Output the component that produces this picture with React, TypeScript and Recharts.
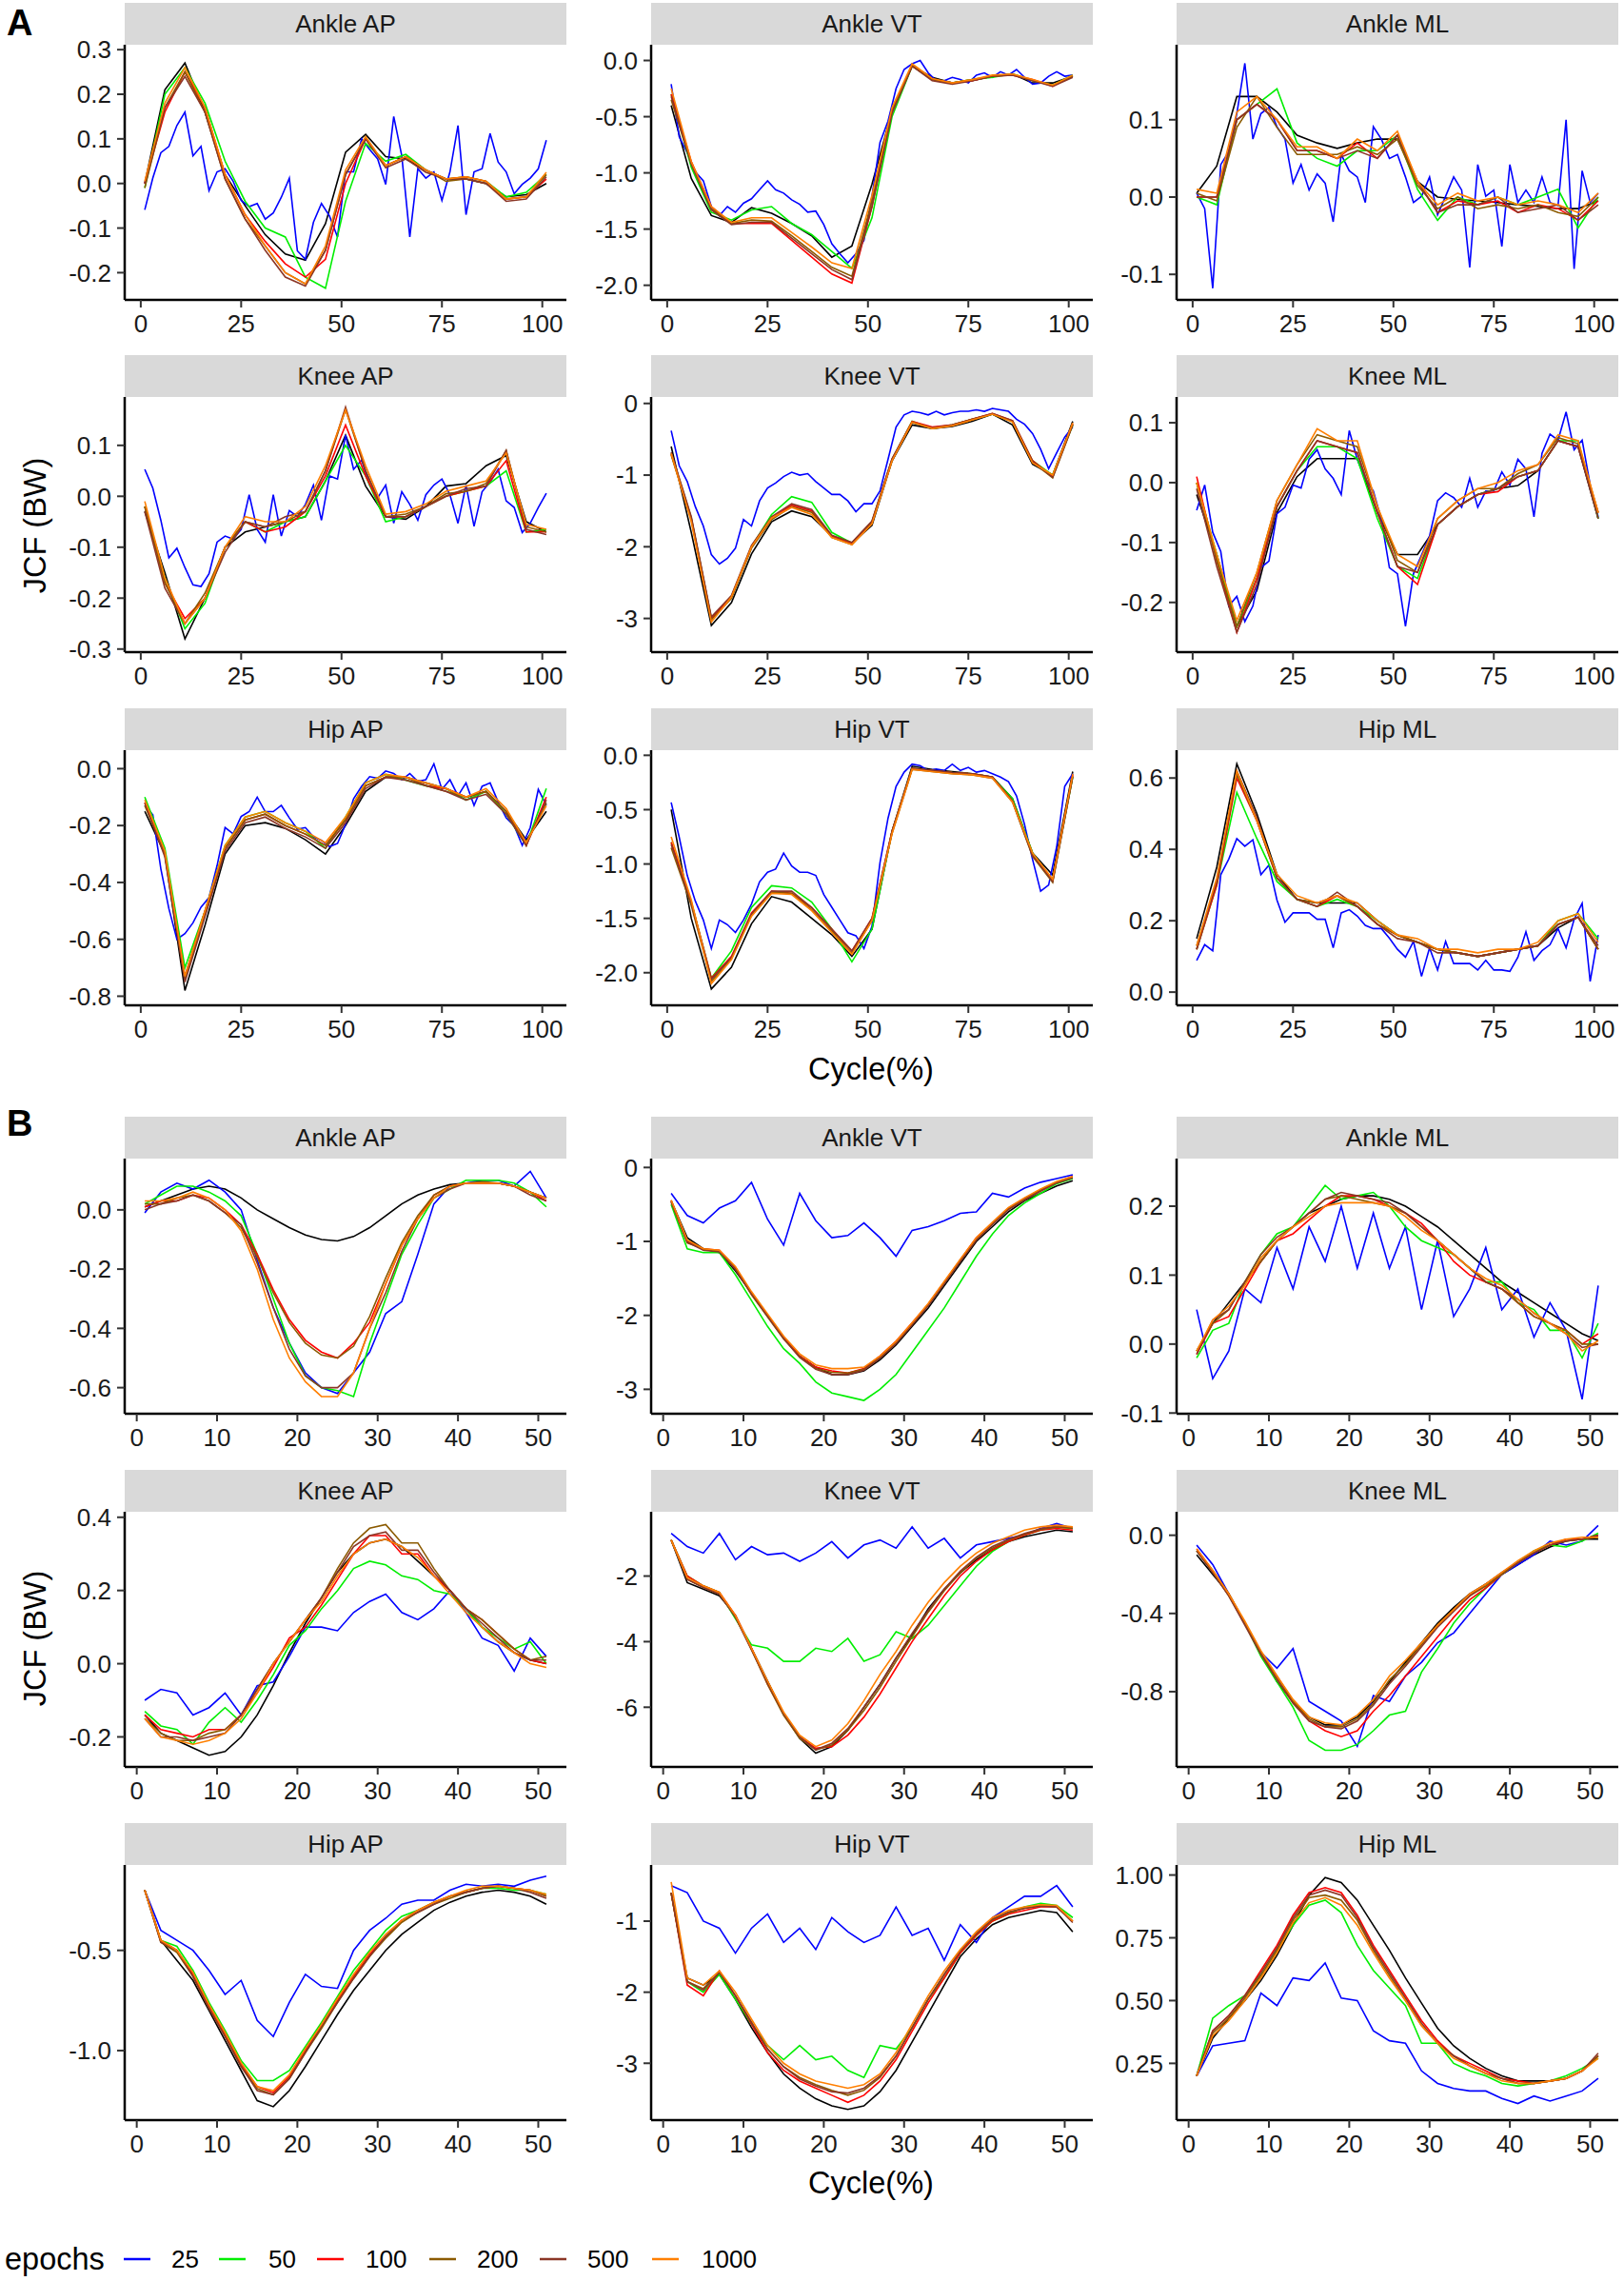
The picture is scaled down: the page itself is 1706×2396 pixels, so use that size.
import { Line, LineChart, XAxis, YAxis } from "recharts";

const FONT = '"Liberation Sans", Arial, sans-serif';

// series order: ground truth (black) first, then the epoch runs
const SERIES = ["truth", "25", "50", "100", "200", "500", "1000"];
const COLORS = ["#000000", "#0000FF", "#00EE00", "#FF0000", "#8B5A00", "#8B3626", "#FF7F00"];

const A_X = [1, 6, 11, 16, 21, 26, 31, 36, 41, 46, 51, 56, 61, 66, 71, 76, 81, 86, 91, 96, 101];
// the noisy 25-epoch curves of panel A are read on a finer grid
const A_X_FINE = [
  1, 3, 5, 7, 9, 11, 13, 15, 17, 19, 21, 23, 25, 27, 29, 31, 33, 35, 37, 39, 41, 43, 45, 47, 49, 51,
  53, 55, 57, 59, 61, 63, 65, 67, 69, 71, 73, 75, 77, 79, 81, 83, 85, 87, 89, 91, 93, 95, 97, 99, 101,
];
const B_X = [1, 3, 5, 7, 9, 11, 13, 15, 17, 19, 21, 23, 25, 27, 29, 31, 33, 35, 37, 39, 41, 43, 45, 47, 49, 51];
const A_X_TICKS = [0, 25, 50, 75, 100];
const B_X_TICKS = [0, 10, 20, 30, 40, 50];

// ---- Panel A ----
const A_ANKLE_AP = [
  [0.0, 0.21, 0.27, 0.16, 0.02, -0.05, -0.115, -0.158, -0.172, -0.09, 0.07, 0.11, 0.06, 0.055, 0.03, 0.01, 0.01, 0.0, -0.03, -0.025, 0.0],
  [-0.059, 0.012, 0.069, 0.083, 0.13, 0.16, 0.062, 0.083, -0.016, 0.026, 0.033, 0.005, -0.038, -0.052, -0.045, -0.08, -0.066, -0.031, 0.012, -0.151, -0.17, -0.087, -0.045, -0.073, -0.12, 0.026, 0.026, 0.1, 0.076, 0.055, -0.002, 0.15, 0.062, -0.12, 0.033, 0.012, 0.026, -0.038, 0.026, 0.13, -0.07, 0.026, 0.033, 0.112, 0.048, 0.026, -0.023, -0.002, 0.012, 0.033, 0.097],
  [-0.01, 0.2, 0.26, 0.18, 0.05, -0.04, -0.1, -0.12, -0.21, -0.235, -0.04, 0.09, 0.05, 0.065, 0.03, 0.01, 0.015, 0.005, -0.03, -0.02, 0.02],
  [0.0, 0.16, 0.25, 0.17, 0.02, -0.07, -0.13, -0.18, -0.21, -0.17, 0.0, 0.1, 0.04, 0.06, 0.03, 0.01, 0.015, 0.005, -0.035, -0.03, 0.01],
  [-0.01, 0.17, 0.25, 0.16, 0.01, -0.08, -0.14, -0.2, -0.225, -0.15, 0.02, 0.1, 0.04, 0.06, 0.03, 0.005, 0.01, 0.0, -0.035, -0.03, 0.02],
  [0.0, 0.17, 0.24, 0.16, 0.01, -0.08, -0.15, -0.21, -0.23, -0.15, 0.02, 0.1, 0.035, 0.055, 0.025, 0.01, 0.01, 0.0, -0.04, -0.035, 0.015],
  [0.005, 0.18, 0.26, 0.17, 0.02, -0.07, -0.14, -0.2, -0.225, -0.14, 0.03, 0.105, 0.04, 0.06, 0.03, 0.01, 0.015, 0.005, -0.035, -0.03, 0.025],
];
const A_ANKLE_VT = [
  [-0.4, -1.05, -1.38, -1.44, -1.31, -1.36, -1.45, -1.56, -1.75, -1.65, -1.1, -0.45, -0.05, -0.15, -0.2, -0.18, -0.14, -0.12, -0.2, -0.2, -0.14],
  [-0.21, -0.68, -0.82, -0.99, -1.07, -1.3, -1.38, -1.3, -1.35, -1.27, -1.23, -1.15, -1.07, -1.15, -1.18, -1.24, -1.28, -1.35, -1.34, -1.46, -1.63, -1.72, -1.8, -1.72, -1.6, -1.21, -0.73, -0.54, -0.25, -0.08, -0.03, 0.0, -0.11, -0.18, -0.18, -0.15, -0.17, -0.2, -0.13, -0.11, -0.15, -0.1, -0.13, -0.08, -0.15, -0.21, -0.2, -0.14, -0.1, -0.14, -0.13],
  [-0.3, -0.95, -1.35, -1.42, -1.33, -1.3, -1.45, -1.55, -1.7, -1.85, -1.4, -0.5, -0.05, -0.17, -0.2, -0.17, -0.15, -0.12, -0.18, -0.22, -0.13],
  [-0.3, -0.9, -1.3, -1.45, -1.45, -1.45, -1.6, -1.75, -1.9, -1.98, -1.3, -0.45, -0.05, -0.17, -0.2, -0.18, -0.14, -0.13, -0.17, -0.23, -0.14],
  [-0.35, -0.92, -1.32, -1.45, -1.42, -1.43, -1.56, -1.7, -1.84, -1.92, -1.25, -0.45, -0.04, -0.17, -0.2, -0.17, -0.14, -0.12, -0.18, -0.22, -0.14],
  [-0.32, -0.92, -1.33, -1.46, -1.44, -1.44, -1.58, -1.72, -1.86, -1.95, -1.3, -0.47, -0.05, -0.18, -0.21, -0.18, -0.14, -0.13, -0.18, -0.23, -0.15],
  [-0.25, -0.9, -1.3, -1.44, -1.4, -1.4, -1.53, -1.66, -1.8, -1.85, -1.2, -0.42, -0.03, -0.16, -0.2, -0.17, -0.13, -0.12, -0.17, -0.22, -0.13],
];
const A_ANKLE_ML = [
  [0.005, 0.04, 0.13, 0.13, 0.11, 0.08, 0.07, 0.063, 0.07, 0.075, 0.075, 0.02, 0.0, -0.003, -0.005, -0.007, -0.01, -0.012, -0.015, -0.015, -0.005],
  [0.005, -0.015, -0.118, 0.042, 0.059, 0.108, 0.173, 0.075, 0.108, 0.116, 0.091, 0.075, 0.018, 0.042, 0.009, 0.03, 0.018, -0.032, 0.055, 0.034, 0.026, -0.007, 0.091, 0.075, 0.05, 0.055, 0.026, -0.007, 0.001, 0.026, -0.023, 0.001, 0.026, 0.009, -0.091, 0.042, 0.001, 0.009, -0.064, 0.042, -0.007, 0.009, -0.007, 0.026, -0.007, -0.011, 0.1, -0.093, 0.034, -0.007, 0.005],
  [0.0, -0.01, 0.1, 0.12, 0.14, 0.07, 0.05, 0.04, 0.06, 0.06, 0.08, 0.01, -0.03, 0.0, -0.01, 0.0, -0.01, 0.0, 0.01, -0.04, 0.0],
  [0.0, 0.0, 0.1, 0.12, 0.1, 0.06, 0.06, 0.05, 0.07, 0.05, 0.08, 0.02, -0.02, -0.005, -0.01, -0.005, -0.02, -0.01, -0.015, -0.03, -0.005],
  [0.005, -0.005, 0.09, 0.13, 0.09, 0.055, 0.055, 0.055, 0.065, 0.055, 0.075, 0.015, -0.015, 0.0, -0.015, -0.01, -0.015, -0.01, -0.02, -0.025, 0.0],
  [0.0, 0.0, 0.1, 0.12, 0.1, 0.06, 0.06, 0.05, 0.06, 0.05, 0.08, 0.02, -0.02, -0.01, -0.01, 0.0, -0.02, -0.015, -0.01, -0.03, -0.01],
  [0.01, 0.005, 0.11, 0.13, 0.1, 0.065, 0.065, 0.05, 0.075, 0.06, 0.085, 0.02, -0.01, 0.005, -0.005, 0.0, -0.01, -0.005, -0.01, -0.02, 0.005],
];
const A_KNEE_AP = [
  [-0.03, -0.15, -0.28, -0.2, -0.1, -0.07, -0.06, -0.05, -0.04, 0.03, 0.12, 0.02, -0.04, -0.045, -0.02, 0.02, 0.025, 0.06, 0.08, -0.05, -0.07],
  [0.053, 0.016, -0.047, -0.121, -0.102, -0.14, -0.174, -0.177, -0.152, -0.09, -0.078, -0.084, -0.065, 0.003, -0.065, -0.09, 0.003, -0.078, -0.028, -0.04, -0.016, 0.022, -0.047, 0.04, 0.034, 0.12, 0.053, 0.071, 0.022, -0.003, 0.022, -0.053, 0.009, -0.016, -0.047, 0.003, 0.022, 0.034, 0.003, -0.053, 0.022, -0.059, 0.009, 0.028, 0.053, -0.009, -0.022, -0.071, -0.053, -0.022, 0.006],
  [-0.02, -0.16, -0.26, -0.21, -0.1, -0.05, -0.07, -0.05, -0.04, 0.03, 0.1, 0.04, -0.05, -0.04, -0.02, 0.0, 0.01, 0.02, 0.05, -0.07, -0.065],
  [-0.02, -0.17, -0.24, -0.2, -0.1, -0.05, -0.07, -0.06, -0.03, 0.04, 0.14, 0.04, -0.04, -0.04, -0.02, 0.0, 0.01, 0.02, 0.07, -0.07, -0.07],
  [-0.02, -0.17, -0.25, -0.19, -0.1, -0.05, -0.06, -0.05, -0.03, 0.05, 0.17, 0.05, -0.04, -0.035, -0.02, 0.005, 0.01, 0.025, 0.09, -0.06, -0.07],
  [-0.03, -0.18, -0.25, -0.2, -0.11, -0.05, -0.06, -0.04, -0.03, 0.05, 0.175, 0.05, -0.04, -0.04, -0.02, 0.0, 0.015, 0.02, 0.09, -0.065, -0.075],
  [-0.01, -0.16, -0.25, -0.2, -0.1, -0.04, -0.05, -0.05, -0.02, 0.06, 0.17, 0.06, -0.035, -0.03, -0.015, 0.01, 0.02, 0.03, 0.085, -0.055, -0.065],
];
const A_KNEE_VT = [
  [-0.6, -1.8, -3.1, -2.78, -2.1, -1.65, -1.5, -1.58, -1.85, -1.95, -1.7, -0.8, -0.3, -0.35, -0.32, -0.25, -0.15, -0.3, -0.85, -1.0, -0.25],
  [-0.38, -0.87, -1.09, -1.44, -1.71, -2.11, -2.24, -2.16, -2.02, -1.62, -1.71, -1.36, -1.18, -1.11, -1.02, -0.96, -1.0, -0.98, -1.09, -1.18, -1.27, -1.27, -1.36, -1.51, -1.4, -1.4, -1.22, -0.78, -0.33, -0.16, -0.11, -0.13, -0.16, -0.11, -0.16, -0.13, -0.11, -0.11, -0.09, -0.11, -0.07, -0.09, -0.11, -0.22, -0.29, -0.42, -0.64, -0.91, -0.69, -0.47, -0.33],
  [-0.7, -1.6, -3.0, -2.7, -2.0, -1.55, -1.3, -1.38, -1.8, -1.95, -1.65, -0.78, -0.25, -0.35, -0.3, -0.22, -0.15, -0.25, -0.8, -1.0, -0.3],
  [-0.7, -1.6, -3.0, -2.7, -2.0, -1.6, -1.42, -1.5, -1.85, -1.95, -1.65, -0.78, -0.25, -0.33, -0.3, -0.22, -0.14, -0.24, -0.8, -1.02, -0.28],
  [-0.72, -1.62, -3.02, -2.72, -2.02, -1.62, -1.44, -1.52, -1.87, -1.97, -1.67, -0.8, -0.27, -0.35, -0.31, -0.23, -0.15, -0.25, -0.82, -1.04, -0.3],
  [-0.68, -1.58, -2.98, -2.68, -1.98, -1.58, -1.4, -1.48, -1.84, -1.94, -1.64, -0.77, -0.26, -0.34, -0.3, -0.22, -0.14, -0.24, -0.81, -1.03, -0.29],
  [-0.7, -1.65, -3.05, -2.7, -2.0, -1.6, -1.45, -1.55, -1.87, -1.97, -1.68, -0.8, -0.26, -0.35, -0.31, -0.23, -0.15, -0.26, -0.83, -1.0, -0.27],
];
const A_KNEE_ML = [
  [-0.02, -0.12, -0.24, -0.18, -0.05, 0.01, 0.04, 0.04, 0.04, -0.05, -0.12, -0.12, -0.07, -0.04, -0.02, -0.01, -0.005, 0.02, 0.07, 0.06, -0.06],
  [-0.046, -0.004, -0.083, -0.115, -0.206, -0.19, -0.232, -0.206, -0.142, -0.131, -0.052, -0.041, -0.004, -0.009, 0.039, 0.055, 0.023, 0.007, -0.02, 0.087, 0.039, 0.007, -0.014, -0.062, -0.142, -0.152, -0.24, -0.152, -0.121, -0.089, -0.03, -0.017, -0.025, -0.041, 0.007, -0.041, -0.014, -0.014, 0.018, -0.004, 0.039, 0.023, -0.057, 0.049, 0.081, 0.071, 0.118, 0.055, 0.071, -0.004, -0.057],
  [0.0, -0.12, -0.24, -0.16, -0.04, 0.02, 0.06, 0.06, 0.04, -0.06, -0.14, -0.16, -0.07, -0.04, -0.02, -0.01, 0.01, 0.02, 0.07, 0.07, -0.06],
  [0.01, -0.13, -0.25, -0.16, -0.04, 0.02, 0.07, 0.06, 0.05, -0.05, -0.14, -0.17, -0.07, -0.04, -0.02, -0.015, 0.01, 0.02, 0.07, 0.06, -0.05],
  [0.0, -0.13, -0.24, -0.15, -0.03, 0.03, 0.08, 0.07, 0.06, -0.04, -0.13, -0.15, -0.06, -0.03, -0.01, -0.01, 0.015, 0.03, 0.075, 0.065, -0.05],
  [-0.01, -0.14, -0.25, -0.17, -0.04, 0.02, 0.07, 0.06, 0.05, -0.05, -0.14, -0.15, -0.07, -0.04, -0.02, -0.01, 0.01, 0.02, 0.07, 0.06, -0.06],
  [0.0, -0.12, -0.23, -0.15, -0.03, 0.03, 0.09, 0.07, 0.07, -0.04, -0.12, -0.14, -0.06, -0.03, -0.01, 0.0, 0.02, 0.03, 0.08, 0.07, -0.05],
];
const A_HIP_AP = [
  [-0.15, -0.3, -0.78, -0.55, -0.3, -0.2, -0.19, -0.21, -0.25, -0.3, -0.2, -0.08, -0.03, -0.03, -0.05, -0.07, -0.1, -0.08, -0.15, -0.25, -0.15],
  [-0.129, -0.162, -0.352, -0.492, -0.6, -0.58, -0.542, -0.487, -0.453, -0.341, -0.207, -0.229, -0.168, -0.151, -0.1, -0.151, -0.151, -0.129, -0.173, -0.213, -0.207, -0.24, -0.252, -0.274, -0.263, -0.196, -0.106, -0.062, -0.028, -0.034, -0.008, -0.017, -0.039, -0.017, -0.045, -0.039, 0.017, -0.073, -0.039, -0.095, -0.05, -0.129, -0.062, -0.05, -0.117, -0.173, -0.201, -0.27, -0.207, -0.073, -0.129],
  [-0.1, -0.28, -0.7, -0.5, -0.27, -0.17, -0.15, -0.19, -0.22, -0.28, -0.17, -0.05, -0.02, -0.04, -0.06, -0.07, -0.11, -0.08, -0.16, -0.27, -0.07],
  [-0.12, -0.3, -0.73, -0.5, -0.28, -0.18, -0.16, -0.2, -0.23, -0.27, -0.18, -0.06, -0.03, -0.03, -0.06, -0.07, -0.1, -0.08, -0.15, -0.27, -0.1],
  [-0.13, -0.3, -0.74, -0.51, -0.28, -0.18, -0.16, -0.2, -0.23, -0.27, -0.18, -0.06, -0.03, -0.03, -0.06, -0.08, -0.1, -0.08, -0.15, -0.26, -0.12],
  [-0.12, -0.31, -0.75, -0.52, -0.29, -0.19, -0.17, -0.21, -0.24, -0.28, -0.19, -0.07, -0.03, -0.04, -0.06, -0.08, -0.11, -0.09, -0.16, -0.27, -0.11],
  [-0.11, -0.29, -0.73, -0.5, -0.27, -0.17, -0.15, -0.19, -0.22, -0.26, -0.17, -0.05, -0.02, -0.03, -0.05, -0.07, -0.1, -0.07, -0.14, -0.26, -0.13],
];
const A_HIP_VT = [
  [-0.5, -1.5, -2.15, -1.95, -1.55, -1.3, -1.35, -1.5, -1.65, -1.85, -1.6, -0.7, -0.1, -0.13, -0.15, -0.17, -0.2, -0.4, -0.9, -1.1, -0.15],
  [-0.433, -0.754, -1.105, -1.34, -1.515, -1.778, -1.515, -1.558, -1.63, -1.515, -1.368, -1.164, -1.076, -1.047, -0.9, -1.018, -1.076, -1.076, -1.105, -1.281, -1.398, -1.515, -1.632, -1.66, -1.778, -1.573, -0.988, -0.579, -0.287, -0.155, -0.082, -0.096, -0.14, -0.126, -0.14, -0.082, -0.14, -0.111, -0.155, -0.14, -0.17, -0.2, -0.243, -0.374, -0.637, -0.959, -1.251, -1.193, -0.842, -0.287, -0.17],
  [-0.8, -1.35, -2.05, -1.8, -1.4, -1.2, -1.22, -1.35, -1.6, -1.9, -1.6, -0.7, -0.12, -0.14, -0.16, -0.17, -0.2, -0.4, -0.9, -1.15, -0.2],
  [-0.8, -1.35, -2.05, -1.85, -1.45, -1.25, -1.27, -1.4, -1.6, -1.8, -1.5, -0.7, -0.12, -0.14, -0.16, -0.17, -0.2, -0.42, -0.92, -1.15, -0.18],
  [-0.85, -1.38, -2.08, -1.87, -1.47, -1.26, -1.27, -1.42, -1.62, -1.82, -1.52, -0.72, -0.13, -0.15, -0.17, -0.18, -0.21, -0.43, -0.93, -1.17, -0.2],
  [-0.82, -1.36, -2.06, -1.86, -1.46, -1.25, -1.25, -1.4, -1.6, -1.8, -1.5, -0.7, -0.12, -0.14, -0.16, -0.17, -0.2, -0.42, -0.92, -1.16, -0.19],
  [-0.75, -1.33, -2.1, -1.88, -1.48, -1.27, -1.28, -1.43, -1.63, -1.83, -1.52, -0.72, -0.13, -0.15, -0.17, -0.18, -0.21, -0.43, -0.9, -1.14, -0.17],
];
const A_HIP_ML = [
  [0.15, 0.35, 0.64, 0.5, 0.33, 0.26, 0.25, 0.25, 0.25, 0.2, 0.16, 0.14, 0.12, 0.11, 0.1, 0.11, 0.12, 0.13, 0.18, 0.21, 0.12],
  [0.089, 0.133, 0.116, 0.329, 0.373, 0.43, 0.409, 0.427, 0.329, 0.356, 0.258, 0.196, 0.222, 0.222, 0.222, 0.204, 0.204, 0.124, 0.222, 0.231, 0.213, 0.187, 0.178, 0.178, 0.151, 0.12, 0.098, 0.142, 0.044, 0.124, 0.062, 0.142, 0.08, 0.08, 0.08, 0.062, 0.089, 0.062, 0.062, 0.058, 0.098, 0.169, 0.089, 0.116, 0.133, 0.178, 0.124, 0.204, 0.249, 0.03, 0.16],
  [0.12, 0.3, 0.56, 0.43, 0.31, 0.26, 0.24, 0.26, 0.24, 0.2, 0.16, 0.14, 0.12, 0.11, 0.1, 0.11, 0.12, 0.13, 0.2, 0.22, 0.15],
  [0.12, 0.3, 0.6, 0.48, 0.32, 0.26, 0.24, 0.27, 0.24, 0.19, 0.16, 0.14, 0.12, 0.11, 0.1, 0.11, 0.12, 0.13, 0.19, 0.21, 0.12],
  [0.13, 0.31, 0.61, 0.48, 0.32, 0.26, 0.25, 0.27, 0.24, 0.19, 0.16, 0.14, 0.12, 0.11, 0.1, 0.11, 0.12, 0.13, 0.19, 0.21, 0.12],
  [0.12, 0.31, 0.62, 0.49, 0.32, 0.26, 0.24, 0.28, 0.24, 0.19, 0.15, 0.14, 0.11, 0.11, 0.1, 0.11, 0.12, 0.13, 0.19, 0.21, 0.13],
  [0.13, 0.32, 0.62, 0.48, 0.33, 0.27, 0.25, 0.27, 0.25, 0.2, 0.16, 0.15, 0.12, 0.12, 0.11, 0.12, 0.12, 0.14, 0.2, 0.22, 0.14],
];

// ---- Panel B ----
const B_ANKLE_AP = [
  [0.01, 0.03, 0.05, 0.07, 0.08, 0.07, 0.04, 0.0, -0.03, -0.06, -0.085, -0.1, -0.105, -0.09, -0.06, -0.02, 0.02, 0.05, 0.07, 0.085, 0.09, 0.09, 0.09, 0.08, 0.06, 0.04],
  [-0.01, 0.06, 0.09, 0.07, 0.1, 0.06, 0.0, -0.17, -0.33, -0.45, -0.55, -0.6, -0.62, -0.55, -0.48, -0.35, -0.31, -0.15, 0.02, 0.08, 0.09, 0.1, 0.1, 0.08, 0.13, 0.04],
  [0.02, 0.05, 0.08, 0.08, 0.06, 0.03, -0.02, -0.15, -0.3, -0.45, -0.56, -0.6, -0.61, -0.63, -0.45, -0.3, -0.15, -0.05, 0.04, 0.07, 0.1, 0.1, 0.1, 0.09, 0.06, 0.01],
  [0.01, 0.03, 0.03, 0.05, 0.04, 0.0, -0.05, -0.15, -0.27, -0.37, -0.44, -0.48, -0.5, -0.45, -0.38, -0.25, -0.12, -0.03, 0.05, 0.08, 0.09, 0.09, 0.09, 0.08, 0.06, 0.03],
  [0.02, 0.02, 0.04, 0.05, 0.03, -0.01, -0.06, -0.16, -0.28, -0.38, -0.45, -0.49, -0.5, -0.46, -0.36, -0.23, -0.11, -0.02, 0.05, 0.08, 0.09, 0.095, 0.09, 0.08, 0.06, 0.04],
  [0.0, 0.02, 0.03, 0.05, 0.03, -0.01, -0.05, -0.18, -0.33, -0.47, -0.56, -0.6, -0.6, -0.55, -0.4, -0.28, -0.14, -0.03, 0.04, 0.07, 0.09, 0.09, 0.09, 0.08, 0.05, 0.03],
  [0.03, 0.03, 0.04, 0.06, 0.04, 0.0, -0.07, -0.2, -0.37, -0.5, -0.58, -0.63, -0.63, -0.55, -0.4, -0.25, -0.12, -0.03, 0.04, 0.08, 0.09, 0.09, 0.09, 0.08, 0.06, 0.04],
];
const B_ANKLE_VT = [
  [-0.45, -0.95, -1.1, -1.15, -1.4, -1.7, -2.0, -2.3, -2.55, -2.7, -2.8, -2.8, -2.75, -2.6, -2.4, -2.15, -1.9, -1.6, -1.3, -1.0, -0.8, -0.6, -0.45, -0.35, -0.25, -0.18],
  [-0.35, -0.65, -0.75, -0.55, -0.45, -0.2, -0.7, -1.05, -0.35, -0.72, -0.95, -0.92, -0.75, -0.95, -1.2, -0.85, -0.8, -0.72, -0.62, -0.6, -0.35, -0.4, -0.28, -0.2, -0.15, -0.1],
  [-0.5, -1.1, -1.15, -1.15, -1.45, -1.8, -2.15, -2.45, -2.65, -2.9, -3.05, -3.1, -3.15, -3.0, -2.8, -2.5, -2.2, -1.9, -1.55, -1.2, -0.9, -0.65, -0.48, -0.35, -0.22, -0.15],
  [-0.45, -1.0, -1.1, -1.12, -1.35, -1.7, -2.0, -2.3, -2.55, -2.7, -2.75, -2.78, -2.72, -2.55, -2.35, -2.1, -1.85, -1.55, -1.25, -0.95, -0.75, -0.55, -0.42, -0.3, -0.2, -0.12],
  [-0.47, -1.02, -1.1, -1.13, -1.37, -1.72, -2.02, -2.32, -2.56, -2.72, -2.77, -2.78, -2.73, -2.57, -2.37, -2.12, -1.86, -1.56, -1.26, -0.97, -0.76, -0.56, -0.43, -0.31, -0.2, -0.13],
  [-0.46, -1.01, -1.12, -1.14, -1.38, -1.71, -2.01, -2.31, -2.57, -2.73, -2.8, -2.8, -2.74, -2.58, -2.38, -2.13, -1.87, -1.57, -1.27, -0.98, -0.77, -0.57, -0.44, -0.32, -0.21, -0.14],
  [-0.44, -0.98, -1.1, -1.12, -1.34, -1.68, -1.98, -2.28, -2.52, -2.67, -2.72, -2.72, -2.7, -2.55, -2.35, -2.1, -1.84, -1.54, -1.24, -0.95, -0.74, -0.54, -0.41, -0.29, -0.19, -0.12],
];
const B_ANKLE_ML = [
  [-0.01, 0.03, 0.06, 0.09, 0.12, 0.15, 0.17, 0.19, 0.2, 0.21, 0.215, 0.215, 0.21, 0.2, 0.185, 0.17, 0.15, 0.13, 0.11, 0.09, 0.075, 0.06, 0.045, 0.03, 0.015, 0.005],
  [0.05, -0.05, -0.01, 0.08, 0.06, 0.14, 0.08, 0.17, 0.12, 0.2, 0.11, 0.19, 0.11, 0.17, 0.05, 0.15, 0.04, 0.08, 0.14, 0.05, 0.08, 0.01, 0.06, 0.02, -0.08, 0.085],
  [-0.02, 0.02, 0.03, 0.09, 0.13, 0.16, 0.17, 0.2, 0.23, 0.21, 0.215, 0.22, 0.2, 0.17, 0.15, 0.14, 0.13, 0.11, 0.09, 0.09, 0.06, 0.05, 0.02, 0.02, -0.02, 0.03],
  [-0.015, 0.03, 0.04, 0.08, 0.12, 0.15, 0.16, 0.18, 0.2, 0.215, 0.215, 0.21, 0.2, 0.19, 0.175, 0.15, 0.12, 0.1, 0.09, 0.08, 0.06, 0.04, 0.03, 0.02, 0.0, 0.015],
  [-0.01, 0.03, 0.05, 0.09, 0.12, 0.15, 0.17, 0.19, 0.21, 0.215, 0.21, 0.205, 0.2, 0.19, 0.17, 0.15, 0.13, 0.11, 0.09, 0.08, 0.06, 0.04, 0.03, 0.02, 0.0, 0.0],
  [-0.015, 0.035, 0.05, 0.09, 0.13, 0.155, 0.17, 0.19, 0.21, 0.22, 0.215, 0.21, 0.205, 0.19, 0.17, 0.15, 0.13, 0.11, 0.09, 0.08, 0.065, 0.045, 0.03, 0.015, -0.005, 0.0],
  [-0.01, 0.035, 0.055, 0.085, 0.125, 0.15, 0.17, 0.185, 0.2, 0.205, 0.205, 0.205, 0.2, 0.185, 0.165, 0.15, 0.13, 0.11, 0.095, 0.085, 0.065, 0.045, 0.03, 0.015, -0.01, 0.005],
];
const B_KNEE_AP = [
  [-0.14, -0.19, -0.21, -0.23, -0.25, -0.24, -0.2, -0.14, -0.06, 0.03, 0.11, 0.18, 0.25, 0.3, 0.33, 0.34, 0.32, 0.28, 0.24, 0.2, 0.15, 0.1, 0.06, 0.03, 0.01, 0.0],
  [-0.1, -0.07, -0.08, -0.14, -0.12, -0.08, -0.14, -0.06, -0.05, 0.02, 0.1, 0.1, 0.09, 0.14, 0.17, 0.19, 0.14, 0.12, 0.15, 0.2, 0.14, 0.07, 0.05, -0.02, 0.07, 0.02],
  [-0.13, -0.17, -0.18, -0.22, -0.16, -0.12, -0.16, -0.1, -0.03, 0.05, 0.09, 0.15, 0.2, 0.26, 0.28, 0.27, 0.24, 0.23, 0.2, 0.19, 0.15, 0.1, 0.07, 0.04, 0.06, 0.0],
  [-0.14, -0.18, -0.19, -0.2, -0.18, -0.18, -0.14, -0.08, -0.01, 0.07, 0.1, 0.16, 0.23, 0.3, 0.35, 0.35, 0.3, 0.3, 0.24, 0.2, 0.15, 0.12, 0.08, 0.04, 0.01, 0.0],
  [-0.15, -0.19, -0.21, -0.21, -0.19, -0.18, -0.14, -0.07, 0.0, 0.06, 0.12, 0.18, 0.26, 0.33, 0.37, 0.38, 0.33, 0.33, 0.26, 0.2, 0.15, 0.12, 0.08, 0.04, 0.01, 0.02],
  [-0.15, -0.2, -0.2, -0.21, -0.2, -0.19, -0.14, -0.07, 0.0, 0.06, 0.12, 0.18, 0.25, 0.32, 0.35, 0.36, 0.31, 0.31, 0.25, 0.2, 0.15, 0.11, 0.07, 0.03, 0.01, 0.01],
  [-0.15, -0.2, -0.21, -0.22, -0.21, -0.19, -0.15, -0.08, 0.0, 0.06, 0.12, 0.17, 0.24, 0.3, 0.33, 0.34, 0.32, 0.29, 0.24, 0.19, 0.14, 0.1, 0.06, 0.03, 0.0, -0.01],
];
const B_KNEE_VT = [
  [-0.9, -2.2, -2.4, -2.6, -3.2, -4.2, -5.2, -6.2, -6.95, -7.4, -7.2, -6.7, -6.0, -5.3, -4.5, -3.8, -3.0, -2.4, -1.9, -1.5, -1.2, -0.95, -0.8, -0.7, -0.6, -0.65],
  [-0.7, -1.1, -1.3, -0.7, -1.5, -1.1, -1.35, -1.3, -1.55, -1.3, -0.95, -1.45, -1.05, -0.9, -1.15, -0.5, -1.15, -0.85, -1.45, -1.05, -0.95, -0.85, -0.75, -0.55, -0.4, -0.55],
  [-0.9, -2.0, -2.3, -2.5, -3.3, -4.1, -4.2, -4.6, -4.6, -4.2, -4.3, -3.9, -4.6, -4.4, -3.7, -3.9, -3.5, -2.9, -2.3, -1.7, -1.25, -0.95, -0.75, -0.6, -0.5, -0.55],
  [-0.9, -2.0, -2.3, -2.5, -3.2, -4.2, -5.3, -6.2, -6.9, -7.25, -7.2, -6.85, -6.3, -5.6, -4.8, -4.0, -3.3, -2.6, -2.0, -1.55, -1.2, -0.95, -0.75, -0.6, -0.55, -0.6],
  [-0.9, -2.1, -2.35, -2.55, -3.25, -4.25, -5.3, -6.25, -6.95, -7.3, -7.15, -6.7, -6.1, -5.4, -4.6, -3.85, -3.1, -2.45, -1.9, -1.45, -1.15, -0.9, -0.72, -0.58, -0.5, -0.55],
  [-0.9, -2.1, -2.35, -2.55, -3.25, -4.25, -5.25, -6.2, -6.9, -7.3, -7.1, -6.65, -6.0, -5.3, -4.5, -3.75, -3.05, -2.4, -1.85, -1.42, -1.1, -0.88, -0.7, -0.56, -0.48, -0.52],
  [-0.9, -2.05, -2.3, -2.5, -3.2, -4.2, -5.2, -6.15, -6.85, -7.2, -7.0, -6.5, -5.8, -5.0, -4.3, -3.5, -2.8, -2.2, -1.7, -1.3, -1.0, -0.8, -0.6, -0.5, -0.45, -0.5],
];
const B_KNEE_ML = [
  [-0.1, -0.2, -0.3, -0.45, -0.6, -0.75, -0.85, -0.93, -0.97, -0.97, -0.93, -0.85, -0.75, -0.65, -0.55, -0.45, -0.37, -0.3, -0.25, -0.2, -0.15, -0.1, -0.06, -0.03, -0.02, -0.02],
  [-0.05, -0.15, -0.3, -0.45, -0.6, -0.68, -0.58, -0.85, -0.9, -0.95, -1.08, -0.82, -0.85, -0.72, -0.65, -0.55, -0.5, -0.4, -0.3, -0.2, -0.15, -0.1, -0.03, -0.05, -0.03, 0.05],
  [-0.08, -0.18, -0.3, -0.45, -0.62, -0.75, -0.88, -1.05, -1.1, -1.1, -1.07, -1.0, -0.92, -0.9, -0.7, -0.58, -0.45, -0.35, -0.27, -0.2, -0.14, -0.08, -0.05, -0.06, -0.03, 0.01],
  [-0.07, -0.18, -0.3, -0.45, -0.6, -0.72, -0.85, -0.95, -1.0, -1.03, -1.0, -0.9, -0.82, -0.72, -0.62, -0.52, -0.42, -0.33, -0.27, -0.2, -0.14, -0.09, -0.05, -0.02, -0.02, 0.0],
  [-0.08, -0.19, -0.31, -0.45, -0.6, -0.73, -0.85, -0.94, -0.98, -0.98, -0.94, -0.86, -0.74, -0.66, -0.56, -0.46, -0.38, -0.31, -0.26, -0.2, -0.14, -0.09, -0.05, -0.03, -0.02, -0.01],
  [-0.08, -0.19, -0.31, -0.46, -0.61, -0.74, -0.86, -0.95, -0.98, -0.99, -0.95, -0.87, -0.76, -0.67, -0.57, -0.47, -0.39, -0.31, -0.25, -0.19, -0.14, -0.09, -0.05, -0.03, -0.02, 0.0],
  [-0.07, -0.18, -0.3, -0.44, -0.59, -0.72, -0.84, -0.93, -0.96, -0.97, -0.92, -0.84, -0.72, -0.64, -0.55, -0.46, -0.38, -0.3, -0.25, -0.19, -0.13, -0.08, -0.04, -0.02, -0.01, -0.01],
];
const B_HIP_AP = [
  [-0.2, -0.45, -0.55, -0.65, -0.8, -0.95, -1.1, -1.25, -1.28, -1.2, -1.08, -0.95, -0.82, -0.7, -0.6, -0.5, -0.42, -0.36, -0.3, -0.26, -0.23, -0.21, -0.2, -0.21, -0.23, -0.27],
  [-0.2, -0.4, -0.45, -0.5, -0.6, -0.72, -0.65, -0.85, -0.93, -0.76, -0.62, -0.68, -0.69, -0.5, -0.4, -0.34, -0.27, -0.25, -0.25, -0.2, -0.17, -0.18, -0.17, -0.18, -0.15, -0.13],
  [-0.2, -0.45, -0.48, -0.6, -0.76, -0.9, -1.05, -1.15, -1.15, -1.1, -0.98, -0.86, -0.73, -0.6, -0.5, -0.4, -0.33, -0.3, -0.26, -0.23, -0.21, -0.19, -0.19, -0.2, -0.2, -0.22],
  [-0.2, -0.45, -0.5, -0.62, -0.78, -0.92, -1.07, -1.18, -1.21, -1.13, -1.0, -0.88, -0.75, -0.63, -0.52, -0.43, -0.35, -0.3, -0.26, -0.23, -0.21, -0.19, -0.18, -0.19, -0.2, -0.23],
  [-0.2, -0.46, -0.51, -0.63, -0.79, -0.93, -1.08, -1.19, -1.22, -1.14, -1.01, -0.89, -0.76, -0.64, -0.53, -0.44, -0.36, -0.31, -0.27, -0.24, -0.21, -0.19, -0.18, -0.19, -0.2, -0.23],
  [-0.2, -0.46, -0.5, -0.63, -0.79, -0.93, -1.08, -1.2, -1.22, -1.14, -1.01, -0.88, -0.76, -0.64, -0.53, -0.43, -0.35, -0.31, -0.27, -0.23, -0.21, -0.19, -0.18, -0.19, -0.21, -0.24],
  [-0.2, -0.45, -0.5, -0.61, -0.77, -0.91, -1.06, -1.18, -1.2, -1.12, -0.99, -0.87, -0.74, -0.62, -0.51, -0.42, -0.35, -0.3, -0.26, -0.23, -0.2, -0.18, -0.18, -0.19, -0.2, -0.22],
];
const B_HIP_VT = [
  [-0.6, -1.8, -1.9, -1.75, -2.1, -2.5, -2.85, -3.15, -3.35, -3.5, -3.6, -3.65, -3.6, -3.4, -3.1, -2.7, -2.3, -1.9, -1.5, -1.25, -1.05, -0.95, -0.9, -0.85, -0.88, -1.15],
  [-0.5, -0.6, -1.0, -1.1, -1.45, -1.1, -0.9, -1.3, -1.1, -1.4, -0.95, -1.15, -1.3, -1.2, -0.8, -1.2, -1.1, -1.55, -1.05, -1.3, -0.95, -0.8, -0.65, -0.65, -0.5, -0.8],
  [-0.6, -1.85, -2.0, -1.75, -2.1, -2.45, -2.75, -2.95, -2.75, -2.95, -2.9, -3.1, -3.2, -2.75, -2.8, -2.5, -2.1, -1.8, -1.45, -1.2, -1.0, -0.9, -0.8, -0.75, -0.78, -0.95],
  [-0.6, -1.9, -2.05, -1.7, -2.05, -2.45, -2.85, -3.1, -3.25, -3.35, -3.45, -3.55, -3.45, -3.25, -2.95, -2.55, -2.15, -1.8, -1.45, -1.2, -1.0, -0.9, -0.85, -0.8, -0.8, -1.0],
  [-0.6, -1.85, -1.95, -1.72, -2.05, -2.42, -2.8, -3.05, -3.2, -3.3, -3.38, -3.45, -3.38, -3.2, -2.9, -2.5, -2.1, -1.75, -1.42, -1.18, -0.98, -0.88, -0.82, -0.78, -0.8, -1.0],
  [-0.6, -1.85, -1.97, -1.72, -2.05, -2.43, -2.8, -3.05, -3.22, -3.32, -3.4, -3.42, -3.35, -3.18, -2.9, -2.5, -2.1, -1.75, -1.42, -1.17, -0.97, -0.87, -0.82, -0.79, -0.8, -1.02],
  [-0.45, -1.8, -1.9, -1.7, -2.0, -2.38, -2.75, -3.0, -3.15, -3.25, -3.3, -3.35, -3.3, -3.15, -2.85, -2.45, -2.05, -1.7, -1.4, -1.15, -0.95, -0.85, -0.8, -0.77, -0.78, -1.0],
];
const B_HIP_ML = [
  [0.2, 0.35, 0.43, 0.5, 0.58, 0.68, 0.8, 0.92, 0.99, 0.97, 0.9, 0.8, 0.7, 0.59, 0.49, 0.39, 0.32, 0.27, 0.23, 0.2, 0.18, 0.18, 0.18, 0.19, 0.22, 0.28],
  [0.2, 0.32, 0.33, 0.34, 0.53, 0.48, 0.59, 0.58, 0.65, 0.51, 0.5, 0.38, 0.34, 0.33, 0.22, 0.17, 0.15, 0.14, 0.14, 0.11, 0.09, 0.12, 0.1, 0.12, 0.14, 0.19],
  [0.2, 0.43, 0.48, 0.52, 0.6, 0.7, 0.8, 0.88, 0.9, 0.85, 0.72, 0.62, 0.55, 0.48, 0.33, 0.33, 0.25, 0.22, 0.2, 0.17, 0.16, 0.17, 0.18, 0.2, 0.23, 0.27],
  [0.2, 0.38, 0.44, 0.52, 0.62, 0.72, 0.84, 0.93, 0.95, 0.93, 0.84, 0.72, 0.62, 0.52, 0.42, 0.34, 0.28, 0.25, 0.22, 0.19, 0.18, 0.17, 0.18, 0.19, 0.22, 0.28],
  [0.2, 0.37, 0.43, 0.51, 0.6, 0.7, 0.82, 0.91, 0.92, 0.9, 0.82, 0.7, 0.6, 0.5, 0.4, 0.33, 0.28, 0.24, 0.21, 0.19, 0.17, 0.17, 0.18, 0.19, 0.22, 0.28],
  [0.2, 0.38, 0.44, 0.52, 0.61, 0.71, 0.83, 0.92, 0.94, 0.92, 0.83, 0.71, 0.61, 0.51, 0.41, 0.33, 0.28, 0.24, 0.21, 0.19, 0.17, 0.17, 0.18, 0.19, 0.22, 0.29],
  [0.2, 0.36, 0.42, 0.5, 0.59, 0.69, 0.81, 0.89, 0.91, 0.88, 0.8, 0.69, 0.59, 0.5, 0.4, 0.33, 0.27, 0.24, 0.21, 0.18, 0.17, 0.17, 0.18, 0.19, 0.22, 0.27],
];

const PANELS = [
  { part: "A", row: 0, col: 0, title: "Ankle AP", values: A_ANKLE_AP, domain: [-0.261, 0.311], ticks: [-0.2, -0.1, 0, 0.1, 0.2, 0.3], digits: 1 },
  { part: "A", row: 0, col: 1, title: "Ankle VT", values: A_ANKLE_VT, domain: [-2.13, 0.14], ticks: [-2, -1.5, -1, -0.5, 0], digits: 1 },
  { part: "A", row: 0, col: 2, title: "Ankle ML", values: A_ANKLE_ML, domain: [-0.133, 0.197], ticks: [-0.1, 0, 0.1], digits: 1 },
  { part: "A", row: 1, col: 0, title: "Knee AP", values: A_KNEE_AP, domain: [-0.306, 0.195], ticks: [-0.3, -0.2, -0.1, 0, 0.1], digits: 1 },
  { part: "A", row: 1, col: 1, title: "Knee VT", values: A_KNEE_VT, domain: [-3.47, 0.09], ticks: [-3, -2, -1, 0], digits: 0 },
  { part: "A", row: 1, col: 2, title: "Knee ML", values: A_KNEE_ML, domain: [-0.283, 0.143], ticks: [-0.2, -0.1, 0, 0.1], digits: 1 },
  { part: "A", row: 2, col: 0, title: "Hip AP", values: A_HIP_AP, domain: [-0.832, 0.065], ticks: [-0.8, -0.6, -0.4, -0.2, 0], digits: 1 },
  { part: "A", row: 2, col: 1, title: "Hip VT", values: A_HIP_VT, domain: [-2.3, 0.047], ticks: [-2, -1.5, -1, -0.5, 0], digits: 1 },
  { part: "A", row: 2, col: 2, title: "Hip ML", values: A_HIP_ML, domain: [-0.037, 0.678], ticks: [0, 0.2, 0.4, 0.6], digits: 1 },
  { part: "B", row: 0, col: 0, title: "Ankle AP", values: B_ANKLE_AP, domain: [-0.688, 0.173], ticks: [-0.6, -0.4, -0.2, 0], digits: 1 },
  { part: "B", row: 0, col: 1, title: "Ankle VT", values: B_ANKLE_VT, domain: [-3.33, 0.12], ticks: [-3, -2, -1, 0], digits: 0 },
  { part: "B", row: 0, col: 2, title: "Ankle ML", values: B_ANKLE_ML, domain: [-0.101, 0.269], ticks: [-0.1, 0, 0.1, 0.2], digits: 1 },
  { part: "B", row: 1, col: 0, title: "Knee AP", values: B_KNEE_AP, domain: [-0.282, 0.415], ticks: [-0.2, 0, 0.2, 0.4], digits: 1 },
  { part: "B", row: 1, col: 1, title: "Knee VT", values: B_KNEE_VT, domain: [-7.82, -0.04], ticks: [-6, -4, -2], digits: 0 },
  { part: "B", row: 1, col: 2, title: "Knee ML", values: B_KNEE_ML, domain: [-1.185, 0.12], ticks: [-0.8, -0.4, 0], digits: 1 },
  { part: "B", row: 2, col: 0, title: "Hip AP", values: B_HIP_AP, domain: [-1.347, -0.074], ticks: [-1, -0.5], digits: 1 },
  { part: "B", row: 2, col: 1, title: "Hip VT", values: B_HIP_VT, domain: [-3.8, -0.21], ticks: [-3, -2, -1], digits: 0 },
  { part: "B", row: 2, col: 2, title: "Hip ML", values: B_HIP_ML, domain: [0.024, 1.04], ticks: [0.25, 0.5, 0.75, 1], digits: 2 },
];

// layout (page pixels)
const COL_LEFT = [131, 684, 1236];
const ROW_TOP: Record<string, number[]> = { A: [3, 373, 744], B: [1173, 1544, 1915] };
const PANEL_W = 464;
const PANEL_H = 268;
const STRIP_H = 44;
const Y_AXIS_W = 100;
const X_AXIS_H = 60;
const PAD_TOP = 20; // room for the topmost tick label
const PAD_RIGHT = 30; // room for the last x tick label

const tickStyle = { fill: "#1a1a1a", fontSize: 26, fontFamily: FONT };

function xsFor(part: string, k: number, n: number) {
  if (part === "B") return B_X;
  return n === A_X_FINE.length ? A_X_FINE : A_X;
}

function Panel({ p }: { p: (typeof PANELS)[number] }) {
  const left = COL_LEFT[p.col];
  const top = ROW_TOP[p.part][p.row];

  return (
    <>
      <div
        style={{
          position: "absolute",
          left,
          top,
          width: PANEL_W,
          height: STRIP_H,
          background: "#D9D9D9",
          display: "flex",
          alignItems: "center",
          justifyContent: "center",
          fontFamily: FONT,
          fontSize: 26,
          color: "#1a1a1a",
        }}
      >
        {p.title}
      </div>
      <div style={{ position: "absolute", left: left - Y_AXIS_W, top: top + STRIP_H - PAD_TOP }}>
        <LineChart
          width={Y_AXIS_W + PANEL_W + PAD_RIGHT}
          height={PAD_TOP + PANEL_H + X_AXIS_H}
          margin={{ top: PAD_TOP, right: PAD_RIGHT, bottom: 0, left: 0 }}
        >
          <XAxis
            type="number"
            dataKey="x"
            domain={p.part === "A" ? [-4, 106] : [-1.5, 53.5]}
            ticks={p.part === "A" ? A_X_TICKS : B_X_TICKS}
            interval={0}
            allowDataOverflow
            height={X_AXIS_H}
            tickSize={8}
            tickMargin={8}
            axisLine={{ stroke: "#000", strokeWidth: 2.5 }}
            tickLine={{ stroke: "#333", strokeWidth: 2 }}
            tick={tickStyle}
          />
          <YAxis
            type="number"
            domain={p.domain}
            ticks={p.ticks}
            interval={0}
            allowDataOverflow
            width={Y_AXIS_W}
            tickSize={8}
            tickMargin={6}
            tickFormatter={(v: number) => v.toFixed(p.digits)}
            axisLine={{ stroke: "#000", strokeWidth: 2.5 }}
            tickLine={{ stroke: "#333", strokeWidth: 2 }}
            tick={tickStyle}
          />
          {p.values.map((vals, k) => {
            const xs = xsFor(p.part, k, vals.length);
            const data = xs.map((x, i) => ({ x, y: vals[i] }));
            return (
              <Line
                key={SERIES[k]}
                data={data}
                type="linear"
                dataKey="y"
                name={SERIES[k]}
                stroke={COLORS[k]}
                strokeWidth={1.6}
                dot={false}
                isAnimationActive={false}
              />
            );
          })}
        </LineChart>
      </div>
    </>
  );
}

// legend positions along the bottom row
const LEGEND_KEY_X = [130, 230, 333, 451, 567, 685];
const LEGEND_LABEL_X = [180, 282, 384, 501, 617, 737];

export default function App() {
  return (
    <div style={{ position: "absolute", left: 0, top: 0, width: 1706, height: 2396, background: "#fff" }}>
      <svg width={1706} height={2396} style={{ position: "absolute", left: 0, top: 0 }} fontFamily={FONT}>
        <text x={7} y={37} fontSize={38} fontWeight="bold" fill="#000">A</text>
        <text x={7} y={1193} fontSize={38} fontWeight="bold" fill="#000">B</text>
        <text transform="translate(37,552) rotate(-90)" textAnchor="middle" dominantBaseline="central" fontSize={32.5} fill="#000">JCF (BW)</text>
        <text transform="translate(37,1721) rotate(-90)" textAnchor="middle" dominantBaseline="central" fontSize={32.5} fill="#000">JCF (BW)</text>
        <text x={915} y={1123} textAnchor="middle" dominantBaseline="central" fontSize={32.5} fill="#000">Cycle(%)</text>
        <text x={915} y={2293} textAnchor="middle" dominantBaseline="central" fontSize={32.5} fill="#000">Cycle(%)</text>
        <text x={5} y={2373} dominantBaseline="central" fontSize={32.5} fill="#000">epochs</text>
        {SERIES.slice(1).map((s, i) => (
          <g key={s}>
            <line x1={LEGEND_KEY_X[i]} x2={LEGEND_KEY_X[i] + 28} y1={2373} y2={2373} stroke={COLORS[i + 1]} strokeWidth={2.5} />
            <text x={LEGEND_LABEL_X[i]} y={2373} dominantBaseline="central" fontSize={26} fill="#000">{s}</text>
          </g>
        ))}
      </svg>
      {PANELS.map((p) => (
        <Panel key={p.part + p.title} p={p} />
      ))}
    </div>
  );
}
